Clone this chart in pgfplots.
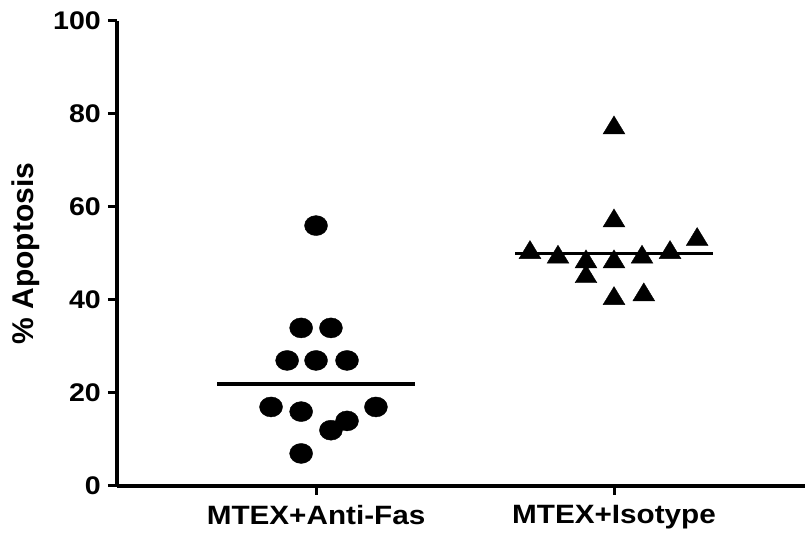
\documentclass[border=0pt]{standalone}
\usepackage{pgfplots}
\pgfplotsset{compat=1.18}
\usepackage{fontspec}
\setmainfont{Liberation Sans}[FakeStretch=1.12]
\newfontfamily\labelfont{Liberation Sans}
\begin{document}
\begin{tikzpicture}
\begin{axis}[
  scale only axis, width=688pt, height=465pt,
  xmin=0.332, xmax=2.641, ymin=0, ymax=100,
  axis x line=bottom, axis y line=left,
  axis line style={-, line width=3.5pt, black},
  ytick={0,20,40,60,80,100},
  xtick={1,2}, xticklabels={MTEX+Anti-Fas, MTEX+Isotype},
  tick align=outside, major tick length=9pt,
  tick style={line width=3pt, black},
  /pgf/number format/assume math mode=true,
  yticklabel style={font=\bfseries\fontsize{25.5}{25.5}\selectfont, inner sep=0pt, anchor=east, xshift=-7pt},
  xticklabel style={font=\bfseries\fontsize{26.5}{26.5}\selectfont, inner sep=0pt, anchor=north, yshift=-10pt},
  ylabel={\% Apoptosis},
  ylabel style={font=\labelfont\bfseries\fontsize{30}{30}\selectfont, at={(axis description cs:-0.1526,0.5)}, anchor=north, inner sep=0pt},
  clip=false,
]
\coordinate (bl) at (rel axis cs:0,0);
\coordinate (tr) at (rel axis cs:1,1);
\addplot[only marks, mark=*, mark size=10pt, mark options={xscale=1.15, fill=black, draw=black}]
  coordinates {(1.000,56) (0.950,34) (1.050,34) (0.903,27) (1.000,27) (1.104,27)
               (0.849,17) (0.950,16) (1.201,17) (1.104,14) (1.050,12) (0.950,7)};
\addplot[only marks, mark=triangle*, mark size=12pt, mark options={xscale=1.05, fill=black, draw=black}]
  coordinates {(2.000,77) (2.000,57) (2.279,53) (1.718,50.2) (1.812,49.2) (1.906,48.2)
               (1.906,45) (2.000,48.2) (2.094,49.2) (2.188,50.2) (2.000,40.3) (2.100,41.1)};
\addplot[black, line width=3.8pt] coordinates {(0.668,22) (1.332,22)};
\addplot[black, line width=3.8pt] coordinates {(1.668,50) (2.332,50)};
\end{axis}
\pgfresetboundingbox
\path ([shift={(-117pt,-48pt)}]bl) rectangle ([shift={(0pt,21pt)}]tr);
\end{tikzpicture}
\end{document}
